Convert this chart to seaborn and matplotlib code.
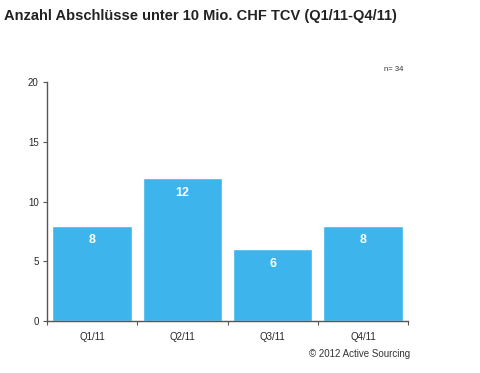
import matplotlib
matplotlib.use("Agg")
import matplotlib.pyplot as plt
import seaborn as sns
import pandas as pd
import numpy as np

categories = ["Q1/11", "Q2/11", "Q3/11", "Q4/11"]
values = [8, 12, 6, 8]
yticks = [0, 5, 10, 15, 20]
title = "Anzahl Abschlüsse unter 10 Mio. CHF TCV (Q1/11-Q4/11)"

sns.set_style("white")
plt.rcParams['font.family'] = ['Liberation Sans', 'DejaVu Sans']

df = pd.DataFrame({"cat": categories, "val": values})

fig = plt.figure(figsize=(4.8, 3.73), dpi=100)
ax = fig.add_axes([0.098, 0.139, 0.752, 0.641])
sns.barplot(data=df, x="cat", y="val", color="#3DB5EC", saturation=1, width=0.88, ax=ax)

ax.set_xlim(-0.5, len(categories) - 0.5)
ax.set_ylim(0, 20)
ax.set_yticks(yticks)
ax.set_xlabel("")
ax.set_ylabel("")
for s in ["top", "right"]:
    ax.spines[s].set_visible(False)
for s in ["left", "bottom"]:
    ax.spines[s].set_color("#555555")
    ax.spines[s].set_linewidth(1.0)

ax.tick_params(axis="y", direction="out", length=3, width=0.8, color="#555555", labelsize=7, pad=3, left=True)
ax.tick_params(axis="x", which="major", length=0, labelsize=7, pad=8)
ax.set_xticks(np.arange(-0.5, len(categories)), minor=True)
ax.tick_params(axis="x", which="minor", direction="out", length=3, width=0.8, color="#555555", bottom=True)

for i, v in enumerate(values):
    ax.text(i, v - 1.25, str(v), ha="center", va="center", color="white", fontsize=9, fontweight="bold")

fig.text(0.008, 0.975, title, ha="left", va="top", fontsize=10.5, fontweight="bold", color="#222222")
fig.text(0.80, 0.815, "n= 34", ha="left", va="center", fontsize=5.5, color="#333333")
fig.text(0.855, 0.052, "© 2012 Active Sourcing", ha="right", va="center", fontsize=7, color="#333333")

fig.savefig("out.png", dpi=100)
